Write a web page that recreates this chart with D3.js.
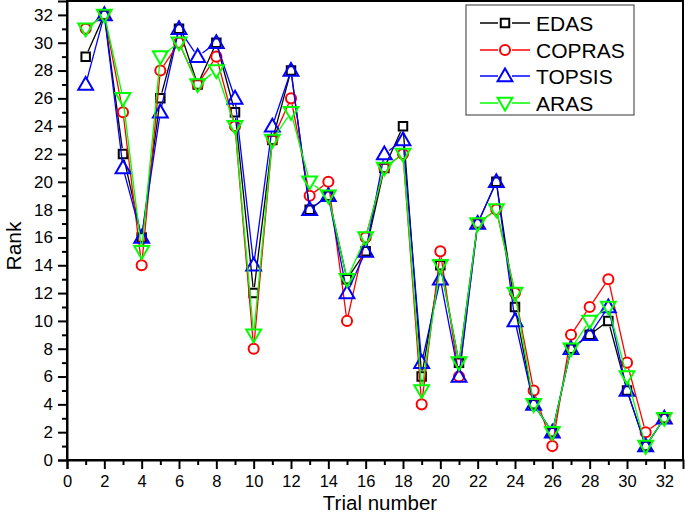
<!DOCTYPE html>
<html><head><meta charset="utf-8">
<script src="https://cdn.jsdelivr.net/npm/d3@7"></script>
<style>body{margin:0;background:#fff}svg{display:block}</style>
</head><body><svg id="c" width="685" height="515"></svg>
<script>
const trials = d3.range(1, 33);
const EDAS   = [29,32,22,16,26,31,27,30,25,12,23,28,18,19,13,15,21,24,6,14,7,17,20,11,4,2,8,9,10,5,1,3];
const COPRAS = [31,32,25,14,28,30,27,29,24,8,23,26,19,20,10,16,21,22,4,15,6,17,18,12,5,1,9,11,13,7,2,3];
const TOPSIS = [27,32,21,16,25,31,29,30,26,14,24,28,18,19,12,15,22,23,7,13,6,17,20,10,4,2,8,9,11,5,1,3];
const ARAS   = [31,32,26,15,29,30,27,28,24,9,23,25,20,19,13,16,21,22,5,14,7,17,18,12,4,2,8,10,11,6,1,3];
const seriesNames = ["EDAS","COPRAS","TOPSIS","ARAS"];
const seriesColors = ["#000000","#ff0000","#0000ff","#00ff00"];
const seriesShapes = ["square","circle","triangleUp","triangleDown"];
const seriesValues = [EDAS, COPRAS, TOPSIS, ARAS];
const xTicks = d3.range(0, 33, 2);
const yTicks = d3.range(0, 33, 2);

const svg = d3.select("#c");
const L = 67, R = 683, T = 1, B = 460;
const x = d3.scaleLinear().domain([0, 33]).range([L, R]);
const y = d3.scaleLinear().domain([0, 33]).range([B, T]);
const font = "Liberation Sans, Arial, sans-serif";

// frame
svg.append("rect").attr("x", L).attr("y", T).attr("width", R - L).attr("height", B - T)
  .attr("fill", "none").attr("stroke", "#000").attr("stroke-width", 2);

// x axis
const xAxis = d3.axisBottom(x).tickValues(xTicks).tickSize(9).tickPadding(6).tickFormat(d3.format("d"));
const gx = svg.append("g").attr("transform", `translate(0,${B})`).call(xAxis);
gx.select(".domain").attr("stroke-width", 2);
gx.selectAll(".tick line").attr("stroke-width", 2);
gx.selectAll("text").attr("font-family", font).attr("font-size", 16.5).attr("fill", "#000");
const gxm = svg.append("g").attr("transform", `translate(0,${B})`)
  .call(d3.axisBottom(x).tickValues(d3.range(1, 33, 2)).tickSize(5).tickFormat(""));
gxm.select(".domain").remove();
gxm.selectAll(".tick line").attr("stroke-width", 2);

// y axis
const yAxis = d3.axisLeft(y).tickValues(yTicks).tickSize(9).tickPadding(5).tickFormat(d3.format("d"));
const gy = svg.append("g").attr("transform", `translate(${L},0)`).call(yAxis);
gy.select(".domain").attr("stroke-width", 2);
gy.selectAll(".tick line").attr("stroke-width", 2);
gy.selectAll("text").attr("font-family", font).attr("font-size", 17).attr("fill", "#000");
const gym = svg.append("g").attr("transform", `translate(${L},0)`)
  .call(d3.axisLeft(y).tickValues(d3.range(1, 33, 2)).tickSize(5).tickFormat(""));
gym.select(".domain").remove();
gym.selectAll(".tick line").attr("stroke-width", 2);

// axis titles
svg.append("text").attr("x", 380).attr("y", 510).attr("text-anchor", "middle")
  .attr("font-family", font).attr("font-size", 20.5).text("Trial number");
svg.append("text").attr("transform", "translate(21,246) rotate(-90)").attr("text-anchor", "middle")
  .attr("font-family", font).attr("font-size", 21).text("Rank");

const sym = {
  square: d3.symbol().type(d3.symbolSquare).size(72),
  circle: d3.symbol().type(d3.symbolCircle).size(80),
  triangleUp: d3.symbol().type(d3.symbolTriangle).size(95),
  triangleDown: d3.symbol().type(d3.symbolTriangle).size(95)
};
function drawMarker(g, shape, color, cx, cy) {
  const rot = shape === "triangleDown" ? 180 : 0;
  const dy = shape === "triangleUp" ? 1 : (shape === "triangleDown" ? -1 : 0);
  g.append("path").attr("d", sym[shape]())
    .attr("transform", `translate(${cx},${cy + dy}) rotate(${rot})`)
    .attr("fill", "none").attr("stroke", color).attr("stroke-width", 2);
}

const gap = 6;
const plot = svg.append("g");
seriesValues.forEach((vals, si) => {
  const g = plot.append("g");
  const pts = trials.map((t, i) => [x(t), y(vals[i])]);
  for (let i = 0; i < pts.length - 1; i++) {
    const [x1, y1] = pts[i], [x2, y2] = pts[i + 1];
    const dx = x2 - x1, dy = y2 - y1, len = Math.hypot(dx, dy);
    if (len <= 2 * gap) continue;
    const ux = dx / len, uy = dy / len;
    g.append("line")
      .attr("x1", x1 + ux * gap).attr("y1", y1 + uy * gap)
      .attr("x2", x2 - ux * gap).attr("y2", y2 - uy * gap)
      .attr("stroke", seriesColors[si]).attr("stroke-width", 1.3);
  }
  pts.forEach(p => drawMarker(g, seriesShapes[si], seriesColors[si], p[0], p[1]));
});

// legend
const lg = svg.append("g");
lg.append("rect").attr("x", 466).attr("y", 5).attr("width", 168).attr("height", 110)
  .attr("fill", "#fff").attr("stroke", "#555").attr("stroke-width", 1.2);
const rowsY = [23, 50, 76, 103];
seriesNames.forEach((name, i) => {
  const ry = rowsY[i];
  lg.append("line").attr("x1", 480).attr("x2", 530).attr("y1", ry).attr("y2", ry)
    .attr("stroke", seriesColors[i]).attr("stroke-width", 1.3);
  lg.append("rect").attr("x", 498).attr("y", ry - 6).attr("width", 14).attr("height", 12).attr("fill", "#fff");
  drawMarker(lg, seriesShapes[i], seriesColors[i], 505, ry);
  lg.append("text").attr("x", 536).attr("y", ry + 8).attr("font-family", font).attr("font-size", 21)
    .text(name);
});
</script></body></html>
